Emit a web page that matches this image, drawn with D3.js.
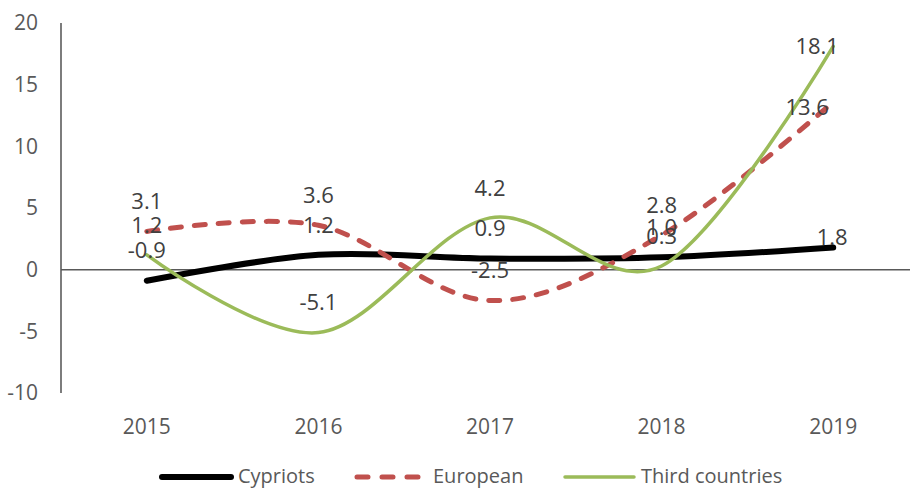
<!DOCTYPE html>
<html>
<head>
<meta charset="utf-8">
<script src="https://cdn.jsdelivr.net/npm/d3@7"></script>
<style>
  body { margin: 0; background: #fff; }
  svg text { font-family: "Open Sans", "Liberation Sans", sans-serif; }
</style>
</head>
<body>
<svg id="chart" width="911" height="490"></svg>
<script>
// chart values
const years = ["2015", "2016", "2017", "2018", "2019"];
const cypriots = [-0.9, 1.2, 0.9, 1.0, 1.8];
const european = [3.1, 3.6, -2.5, 2.8, 13.6];
const thirdCountries = [1.2, -5.1, 4.2, 0.3, 18.1];
const yTicks = [-10, -5, 0, 5, 10, 15, 20];
const seriesNames = ["Cypriots", "European", "Third countries"];

// series look
const series = [
    {name: seriesNames[0], values: cypriots, color: "#000000", width: 6, dash: null, lastShift: [-1, -10]},
    {name: seriesNames[1], values: european, color: "#C0504D", width: 5, dash: "11,13", lastShift: [-26, 5]},
    {name: seriesNames[2], values: thirdCountries, color: "#9BBB59", width: 3.5, dash: null, lastShift: [-16, 0]}
];

const svg = d3.select("#chart");

const x = d3.scalePoint()
    .domain(years)
    .range([61, 919])
    .padding(0.5);

const y = d3.scaleLinear()
    .domain([-10, 20])
    .range([393, 23]);

// y axis line + labels
svg.append("line")
    .attr("x1", 61).attr("x2", 61)
    .attr("y1", y(20)).attr("y2", y(-10))
    .attr("stroke", "#262626").attr("stroke-width", 1.2);

svg.selectAll(".ytick")
    .data(yTicks)
    .enter().append("text")
    .attr("class", "ytick")
    .attr("x", 38)
    .attr("y", d => y(d))
    .attr("dy", "0.35em")
    .attr("text-anchor", "end")
    .attr("font-size", 21)
    .attr("fill", "#595959")
    .text(d => d);

// zero line
svg.append("line")
    .attr("x1", 61).attr("x2", 910)
    .attr("y1", y(0)).attr("y2", y(0))
    .attr("stroke", "#595959").attr("stroke-width", 1.5);

// x labels
svg.selectAll(".xtick")
    .data(years)
    .enter().append("text")
    .attr("class", "xtick")
    .attr("x", d => x(d))
    .attr("y", 427)
    .attr("dy", "0.35em")
    .attr("text-anchor", "middle")
    .attr("font-size", 21)
    .attr("fill", "#595959")
    .text(d => d);

// smoothed lines like the spreadsheet
const line = d3.line()
    .x((d, i) => x(years[i]))
    .y(d => y(d))
    .curve(d3.curveCardinal.tension(0));

series.forEach(function (s) {
    svg.append("path")
        .datum(s.values)
        .attr("d", line)
        .attr("fill", "none")
        .attr("stroke", s.color)
        .attr("stroke-width", s.width)
        .attr("stroke-linecap", "round")
        .attr("stroke-dasharray", s.dash);
});

// data labels, above each point (last one nudged)
series.forEach(function (s) {
    svg.selectAll(null)
        .data(s.values)
        .enter().append("text")
        .attr("x", (d, i) => x(years[i]) + (i === years.length - 1 ? s.lastShift[0] : 0))
        .attr("y", (d, i) => y(d) + (i === years.length - 1 ? s.lastShift[1] : -30))
        .attr("dy", "0.35em")
        .attr("text-anchor", "middle")
        .attr("font-size", 22)
        .attr("fill", "#404040")
        .text(d => d.toFixed(1));
});

// legend
const legendX = [160, 355, 563];
const legend = svg.selectAll(".legend")
    .data(series)
    .enter().append("g")
    .attr("class", "legend")
    .attr("transform", (d, i) => "translate(" + legendX[i] + ",477)");

legend.append("line")
    .attr("x1", 2).attr("x2", 71)
    .attr("y1", 0).attr("y2", 0)
    .attr("stroke", d => d.color)
    .attr("stroke-width", d => d.width)
    .attr("stroke-linecap", "round")
    .attr("stroke-dasharray", d => d.dash ? "11,14" : null);

legend.append("text")
    .attr("x", 78)
    .attr("y", 0)
    .attr("dy", "0.32em")
    .attr("font-size", 20)
    .attr("fill", "#595959")
    .text(d => d.name);
</script>
</body>
</html>
